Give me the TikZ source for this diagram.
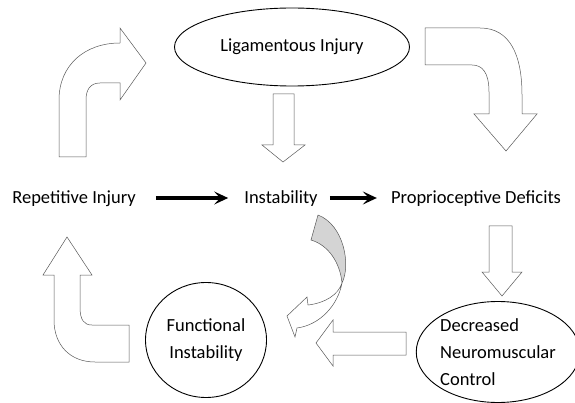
\documentclass[tikz,border=0pt]{standalone}
\usepackage{fontspec}
\setmainfont{Carlito}
\usetikzlibrary{shapes.geometric,arrows.meta}

\tikzset{
  blockarrow/.style={draw=black!65, line width=0.5pt, fill=white},
  ovalbox/.style={ellipse, draw, line width=0.9pt, inner sep=0pt},
  txt/.style={text height=12pt, text depth=0pt, inner sep=2pt},
  flow/.style={line width=3.3pt, -{Stealth[length=14pt,width=13pt,inset=6pt]}}
}

\begin{document}
\begin{tikzpicture}[x=1pt,y=-1pt,font=\fontsize{18.5}{27}\selectfont]
  \useasboundingbox (0,0) rectangle (575,403);

  % the states
  \node[ovalbox,minimum width=235pt,minimum height=78pt] (lig) at (292,47) {Ligamentous Injury};
  \node[txt] (rep) at (74,198) {Repetitive Injury};
  \node[txt] (inst) at (281,198) {Instability};
  \node[txt] (prop) at (476,198) {Proprioceptive Deficits};
  \node[ovalbox,minimum width=121pt,minimum height=115pt,align=center] (func) at (206,340) {Functional\\Instability};
  \node[ovalbox,minimum width=158pt,minimum height=101pt,align=left] (dnc) at (498,352) {Decreased\\Neuromuscular\\Control};

  % thick arrows
  \draw[flow,shorten <=18pt,shorten >=14pt] (rep) -- (inst);
  \draw[flow,shorten <=10pt,shorten >=12pt] (inst) -- (prop);

  % block arrows
  \draw[blockarrow] (59,157) -- (59,100) .. controls (59,65) and (85,43) .. (120,43)
    -- (120,28) -- (146,63) -- (120,100) -- (120,83) -- (100,83)
    .. controls (90,83) and (86,90) .. (86,100) -- (86,157) -- cycle;
  \draw[blockarrow] (425,28) -- (480,28) .. controls (510,28) and (522,55) .. (522,95)
    -- (522,114) -- (537,114) -- (506,151) -- (474,114) -- (489,114) -- (489,92)
    .. controls (489,72) and (482,65) .. (472,65) -- (425,65) -- cycle;
  \draw[blockarrow] (273,94) -- (294,94) -- (294,145) -- (305,145) -- (283,162)
    -- (262,145) -- (273,145) -- cycle;
  \draw[blockarrow] (489,226) -- (512,226) -- (512,272) -- (522,272) -- (502,296)
    -- (482,272) -- (489,272) -- cycle;
  \draw[blockarrow] (406,332) -- (406,355) -- (333,355) -- (333,366) -- (316,343)
    -- (333,320) -- (333,332) -- cycle;
  \draw[blockarrow] (67,237) -- (92,275) -- (80,275) -- (80,307)
    .. controls (80,320) and (84,325) .. (92,325) -- (129,325) -- (129,362) -- (95,362)
    .. controls (70,362) and (54,345) .. (54,320) -- (54,275) -- (43,275) -- cycle;

  % twisted curved arrow
  \draw[blockarrow,fill=black!17] (318,215) -- (311,240) .. controls (328,245) and (340,262) .. (342,283)
    .. controls (351,265) and (344,225) .. (318,215);
  \draw[blockarrow] (342,283) .. controls (338,295) and (325,303) .. (308,305) -- (307,297)
    -- (287,316) -- (295,337) -- (297,328) .. controls (320,325) and (338,305) .. (342,283);
\end{tikzpicture}
\end{document}
